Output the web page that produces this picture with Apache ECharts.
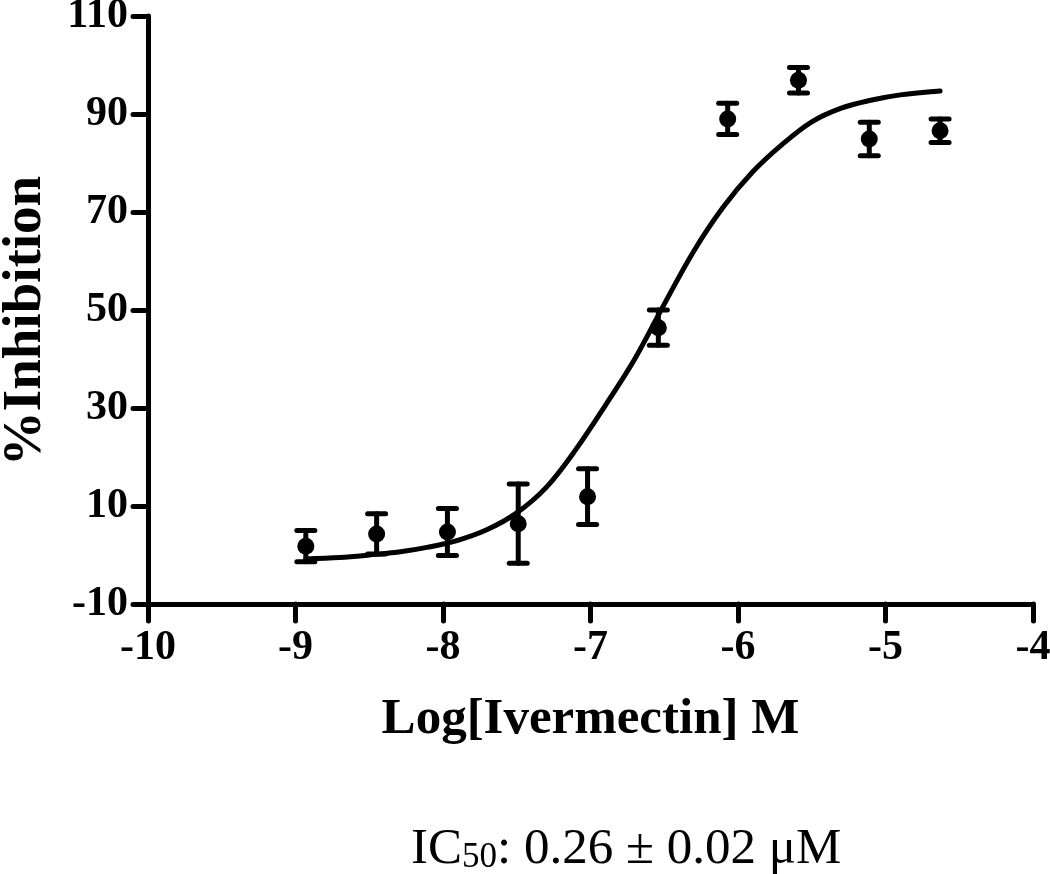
<!DOCTYPE html>
<html>
<head>
<meta charset="utf-8">
<script src="https://cdn.jsdelivr.net/npm/echarts@6/dist/echarts.min.js"></script>
<style>html,body{margin:0;padding:0;background:#fff;}#c{width:1050px;height:874px;}</style>
</head>
<body>
<div id="c"></div>
<script>
// Measured points: log concentration (M), mean % inhibition, error (SEM)
var logConc = [-8.93, -8.45, -7.97, -7.49, -7.02, -6.54, -6.07, -5.59, -5.11, -4.63];
var meanInh = [1.8, 4.3, 4.7, 6.4, 11.9, 46.4, 89.0, 96.9, 84.9, 86.6];
var errInh  = [3.2, 4.1, 4.8, 8.1, 5.7, 3.6, 3.2, 2.6, 3.4, 2.4];

// Fitted curve
var curveX = [-8.93, -8.7, -8.5, -8.3, -8.1, -7.9, -7.7, -7.5, -7.3, -7.1, -6.9, -6.7, -6.5, -6.3, -6.1, -5.9, -5.7, -5.5, -5.3, -5.1, -4.9, -4.63];
var curveY = [-0.8, -0.5, 0.0, 0.6, 1.6, 3.0, 5.2, 8.6, 13.8, 21.5, 30.5, 40.0, 51.2, 62.0, 71.0, 78.2, 83.8, 88.4, 91.2, 92.8, 93.9, 94.7];

var xTicks = [-10, -9, -8, -7, -6, -5, -4];
var yTicks = [-10, 10, 30, 50, 70, 90, 110];

var pts = logConc.map(function (x, i) { return [x, meanInh[i]]; });
var errs = logConc.map(function (x, i) { return [x, meanInh[i], errInh[i]]; });
var curve = curveX.map(function (x, i) { return [x, curveY[i]]; });

var FONT = '"Liberation Serif", "Times New Roman", serif';
var chart = echarts.init(document.getElementById('c'), null, {renderer: 'canvas'});
chart.setOption({
  animation: false,
  backgroundColor: '#fff',
  title: {
    text: '{a|IC}{b|50}{a|: 0.26 ± 0.02 μM}',
    left: 406, top: 810,
    textStyle: {
      fontWeight: 'normal',
      rich: {
        a: {fontFamily: FONT, fontWeight: 'normal', fontSize: 51, color: '#000', verticalAlign: 'bottom', lineHeight: 60},
        b: {fontFamily: FONT, fontWeight: 'normal', fontSize: 35, color: '#000', verticalAlign: 'bottom', lineHeight: 52}
      }
    }
  },
  grid: {left: 148, right: 17, top: 16, bottom: 270, outerBoundsMode: 'none', containLabel: false},
  xAxis: {
    type: 'value', min: -10, max: -4, interval: 1,
    name: 'Log[Ivermectin] M', nameLocation: 'middle', nameGap: 90,
    nameTextStyle: {fontFamily: FONT, fontWeight: 'bold', fontSize: 51, color: '#000'},
    axisLine: {onZero: false, lineStyle: {color: '#000', width: 5, cap: 'round'}},
    axisTick: {show: true, length: 17, lineStyle: {color: '#000', width: 5, cap: 'round'}, customValues: xTicks},
    axisLabel: {fontFamily: FONT, fontWeight: 'bold', fontSize: 42, color: '#000', margin: 23, customValues: xTicks},
    splitLine: {show: false}
  },
  yAxis: {
    type: 'value', min: -10, max: 110,
    name: '%Inhibition', nameLocation: 'middle', nameGap: 95, nameRotate: 90,
    nameTextStyle: {fontFamily: FONT, fontWeight: 'bold', fontSize: 55, color: '#000', padding: [0, 22, 0, 0]},
    axisLine: {onZero: false, lineStyle: {color: '#000', width: 5, cap: 'round'}},
    axisTick: {show: true, length: 15, lineStyle: {color: '#000', width: 5, cap: 'round'}, customValues: yTicks},
    axisLabel: {fontFamily: FONT, fontWeight: 'bold', fontSize: 42, color: '#000', margin: 20, customValues: yTicks},
    splitLine: {show: false}
  },
  series: [
    {
      type: 'line', data: curve, smooth: 0.35, showSymbol: false,
      lineStyle: {color: '#000', width: 5, cap: 'round', join: 'round'}, z: 2
    },
    {
      type: 'custom', data: errs, z: 3,
      renderItem: function (params, api) {
        var x = api.value(0), m = api.value(1), e = api.value(2);
        var top = api.coord([x, m + e]);
        var bot = api.coord([x, m - e]);
        var hw = 9;
        var st = {stroke: '#000', lineWidth: 5, lineCap: 'round'};
        return {
          type: 'group', children: [
            {type: 'line', shape: {x1: top[0], y1: top[1], x2: bot[0], y2: bot[1]}, style: st},
            {type: 'line', shape: {x1: top[0] - hw, y1: top[1], x2: top[0] + hw, y2: top[1]}, style: st},
            {type: 'line', shape: {x1: bot[0] - hw, y1: bot[1], x2: bot[0] + hw, y2: bot[1]}, style: st}
          ]
        };
      }
    },
    {
      type: 'scatter', data: pts, symbol: 'circle', symbolSize: 17,
      itemStyle: {color: '#000', opacity: 1}, z: 4
    }
  ]
});
</script>
</body>
</html>
